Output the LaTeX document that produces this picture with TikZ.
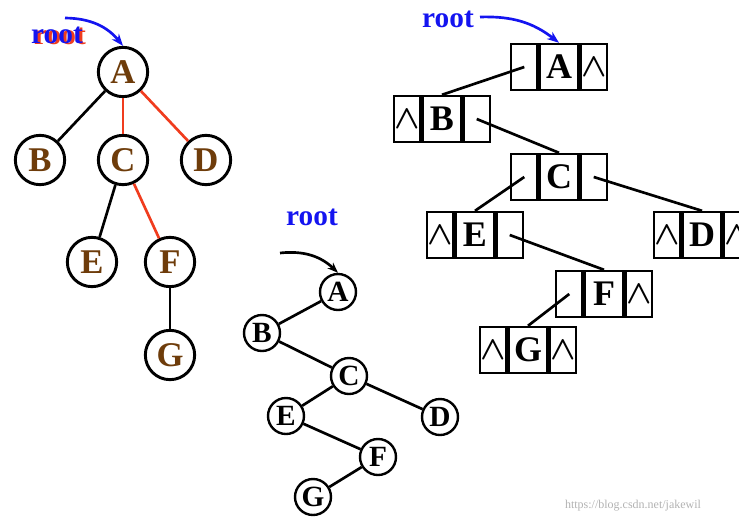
\documentclass[tikz,border=0pt]{standalone}
\usepackage{fontspec}
\setmainfont{Liberation Serif}
\usetikzlibrary{positioning,arrows.meta}
\definecolor{mybrown}{RGB}{110,60,10}
\definecolor{myred}{RGB}{240,60,30}
\definecolor{myblue}{RGB}{20,20,240}

\begin{document}
\begin{tikzpicture}[x=0.75pt,y=-0.75pt,line width=2pt,
		  tnode/.style={draw,circle,fill=white,line width=2.2pt,minimum size=37pt,inner sep=0pt,font=\bfseries\fontsize{26}{26}\selectfont,text=mybrown},
		  snode/.style={draw,circle,fill=white,line width=1.8pt,minimum size=27pt,inner sep=0pt,font=\bfseries\fontsize{22}{22}\selectfont},
		  mcell/.style={draw,line width=1.8pt,minimum width=28.5pt,minimum height=34.5pt,inner sep=0pt,font=\bfseries\fontsize{27}{27}\selectfont},
		  pcell/.style={draw,line width=1.8pt,minimum width=20pt,minimum height=34.5pt,inner sep=0pt,font=\fontsize{24}{24}\selectfont\boldmath},
		  rootlbl/.style={text=myblue,font=\bfseries\fontsize{22}{22}\selectfont,inner sep=0pt},
		  node distance=0pt
		]
	\useasboundingbox (0,0) rectangle (739,522);

	% the tree
	\node[tnode] (A) at (123,72) {A};
	\node[tnode] (B) at (40,160) {B};
	\node[tnode] (C) at (123,160) {C};
	\node[tnode] (D) at (206,160) {D};
	\node[tnode] (E) at (92,262) {E};
	\node[tnode] (F) at (170,262) {F};
	\node[tnode] (G) at (170,355) {G};
	\draw (A) -- (B);
	\draw [myred] (A) -- (C);
	\draw [myred] (A) -- (D);
	\draw (C) -- (E);
	\draw [myred] (C) -- (F);
	\draw (F) -- (G);
	\node[rootlbl,text=myred] at (60,36) {root};
	\node[rootlbl] (r1) at (57,35) {root};
	\coordinate (r1s) at (65,18);
	\draw [myblue,-{Stealth[length=9pt]}] (r1s) to[bend left=25] (A.north);

	% the binary tree
	\begin{scope}[every node/.style={snode}]
	\node (a) at (338,292) {A};
	\node (b) at (262,333) {B};
	\node (c) at (349,376) {C};
	\node (e) at (286,416) {E};
	\node (d) at (440,417) {D};
	\node (f) at (378,457) {F};
	\node (g) at (313,497) {G};
	\end{scope}
	\draw (a) -- (b);
	\draw (b) -- (c);
	\draw (c) -- (e);
	\draw (c) -- (d);
	\draw (e) -- (f);
	\draw (f) -- (g);
	\node[rootlbl] at (312,217) {root};
	\coordinate (r2s) at (280,253);
	\draw [-{Stealth[length=8pt]}] (r2s) to[bend left=25] (a.north);

	% the linked nodes
	\foreach \n/\x/\y/\l/\r in {A/559/67//$\wedge$,B/442/119/$\wedge$/,C/559/177//,E/475/235/$\wedge$/,D/702/235/$\wedge$/$\wedge$,F/604/294//$\wedge$,G/528/350/$\wedge$/$\wedge$}{
	  \node[mcell] (m\n) at (\x,\y) {\n};
	  \node[pcell,left=of m\n] (l\n) {\l};
	  \node[pcell,right=of m\n] (r\n) {\r};
	}
	\draw (lA.center) -- (mB.north);
	\draw (rB.center) -- (mC.north);
	\draw (lC.center) -- (mE.north);
	\draw (rC.center) -- (mD.north);
	\draw (rE.center) -- (mF.north);
	\draw (lF.center) -- (mG.north);
	\node[rootlbl] at (448,19) {root};
	\coordinate (r3s) at (480,17);
	\draw [myblue,-{Stealth[length=9pt]}] (r3s) to[bend left=20] (mA.north);

	\node[text=gray!60,font=\fontsize{9}{9}\selectfont,inner sep=0pt] (wm) at (633,506) {https://blog.csdn.net/jakewil};
\end{tikzpicture}
\end{document}
